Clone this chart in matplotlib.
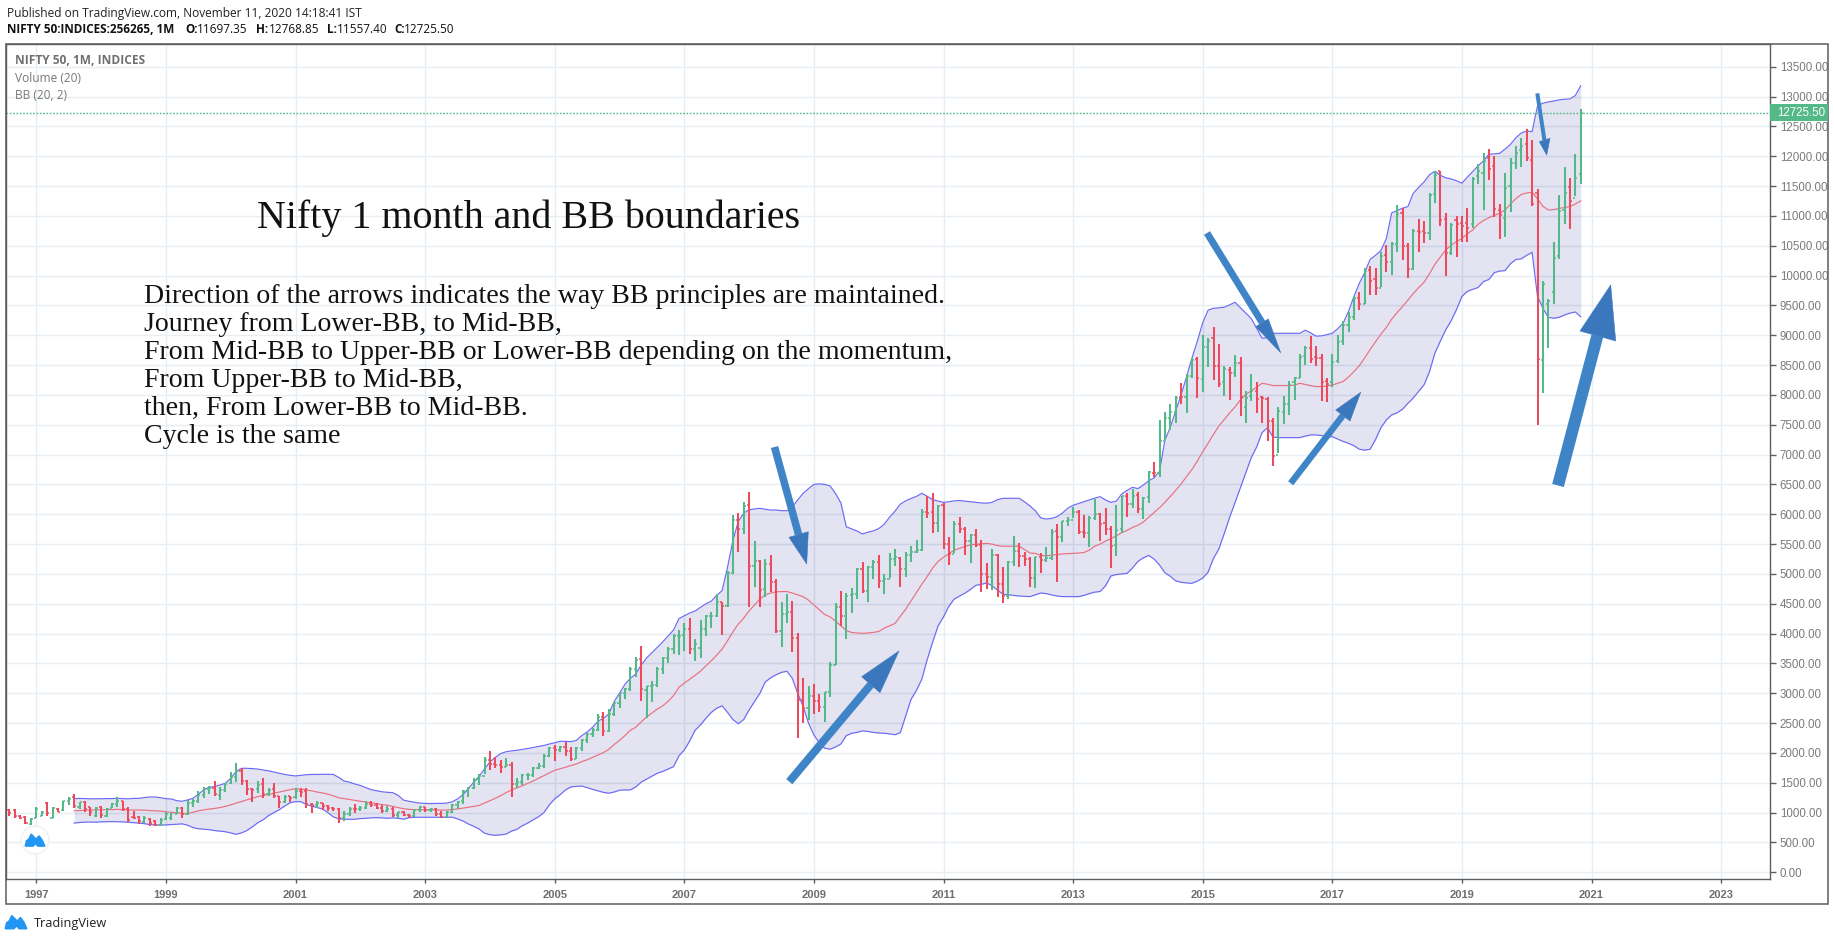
import numpy as np
import matplotlib
matplotlib.use("Agg")
import matplotlib.pyplot as plt
from matplotlib.patches import Polygon, Circle, Rectangle

# =========================
# 1. DATA
# monthly bars Aug 1996 - Nov 2020
# =========================

bar_open = [
    1040, 1040, 945, 930, 815,
    910, 950, 1160, 915, 1065, 1040, 1190, 1260, 1090, 1170, 1090, 950,
    1090, 950, 1080, 1140, 1190, 1060, 930, 930, 840, 900, 860, 800,
    885, 910, 985, 1080, 985, 1165, 1190, 1300, 1395, 1410, 1300, 1380,
    1490, 1600, 1700, 1530, 1400, 1390, 1475, 1310, 1390, 1280, 1175, 1280,
    1260, 1370, 1360, 1140, 1120, 1160, 1105, 1075, 1060, 915, 975, 1065,
    1060, 1075, 1150, 1130, 1080, 1030, 1060, 960, 1010, 965, 950, 1050,
    1095, 1040, 1060, 980, 935, 1005, 1135, 1190, 1355, 1420, 1560, 1620,
    1880, 1810, 1800, 1770, 1790, 1480, 1505, 1630, 1635, 1745, 1785, 1955,
    2080, 2055, 2100, 2040, 1905, 2085, 2220, 2310, 2385, 2600, 2370, 2650,
    2840, 3000, 3075, 3405, 3570, 3050, 3130, 3145, 3415, 3590, 3750, 3955,
    3985, 4085, 3735, 3755, 4085, 4290, 4300, 4530, 4470, 5020, 5900, 5750,
    6150, 5140, 5220, 4740, 5165, 4870, 4040, 4330, 4360, 3920, 2885, 2755,
    2960, 2875, 2765, 3020, 3475, 4450, 4290, 4640, 4660, 5085, 4710, 5120,
    5200, 4880, 4920, 5250, 5275, 5085, 5310, 5365, 5400, 6030, 6030, 5860,
    6150, 5500, 5330, 5835, 5750, 5560, 5650, 5480, 5000, 4945, 5325, 4830,
    4625, 5200, 5385, 5295, 5250, 4925, 5280, 5230, 5260, 5715, 5620, 5880,
    5905, 6040, 5700, 5680, 5930, 6000, 5850, 5750, 5480, 5760, 6300, 6180,
    6320, 6090, 6290, 6700, 6700, 7230, 7610, 7720, 7970, 7970, 8320, 8610,
    8270, 8810, 8950, 8490, 8220, 8420, 8370, 8530, 7790, 7990, 8060, 7960,
    7940, 7560, 7000, 7720, 7850, 8220, 8290, 8650, 8790, 8640, 8620, 8230,
    8210, 8570, 8900, 9180, 9300, 9620, 9520, 10100, 9950, 9790, 10340, 10225,
    10530, 11050, 10490, 10115, 10750, 10740, 10720, 11360, 11750, 10950, 10385, 10930,
    10880, 10880, 10860, 11665, 11725, 11970, 11840, 11100, 10960, 11500, 11880, 12100,
    12200, 11940, 11390, 8585, 9530, 9730, 10325, 11100, 11480, 11300, 11700,
]

bar_high = [
    1055, 1055, 955, 945, 915,
    1090, 1020, 1172, 1090, 1072, 1200, 1257, 1313, 1184, 1195, 1100, 1090,
    1112, 1072, 1156, 1257, 1200, 1100, 1027, 944, 950, 905, 883, 905,
    1010, 1000, 1100, 1090, 1212, 1230, 1368, 1436, 1447, 1530, 1424, 1491,
    1675, 1827, 1743, 1547, 1408, 1536, 1575, 1408, 1491, 1285, 1290, 1285,
    1408, 1419, 1408, 1167, 1201, 1167, 1128, 1090, 1072, 1033, 1100, 1139,
    1117, 1201, 1201, 1156, 1128, 1112, 1100, 1017, 1028, 977, 1056, 1112,
    1100, 1072, 1072, 1028, 1028, 1145, 1201, 1380, 1436, 1575, 1642, 1927,
    2033, 1938, 1882, 1910, 1843, 1575, 1642, 1659, 1759, 1826, 1977, 2094,
    2128, 2117, 2189, 2094, 2106, 2228, 2329, 2413, 2647, 2681, 2731, 2860,
    3010, 3094, 3435, 3602, 3792, 3129, 3212, 3447, 3603, 3782, 3989, 4062,
    4173, 4257, 3905, 4229, 4313, 4369, 4659, 4536, 5056, 5989, 6017, 6201,
    6368, 5553, 5235, 5246, 5318, 4911, 4536, 4659, 4553, 4006, 3252, 3123,
    3151, 2984, 3028, 3520, 4519, 4715, 4676, 4760, 5095, 5195, 5140, 5235,
    5313, 4994, 5346, 5413, 5279, 5374, 5475, 5570, 6084, 6307, 6352, 6156,
    6184, 5614, 5894, 5950, 5782, 5665, 5749, 5570, 5179, 5413, 5329, 5123,
    5224, 5637, 5514, 5374, 5290, 5290, 5358, 5458, 5749, 5838, 5894, 5961,
    6117, 6072, 5988, 5971, 6251, 6016, 6100, 5809, 6156, 6312, 6351, 6424,
    6368, 6284, 6731, 6871, 7581, 7710, 7844, 7989, 8196, 8352, 8626, 8631,
    9006, 8950, 9134, 8855, 8492, 8475, 8670, 8631, 8062, 8352, 8224, 7989,
    7972, 7609, 7793, 7989, 8235, 8307, 8682, 8827, 8989, 8821, 8682, 8279,
    8682, 9006, 9245, 9396, 9658, 9720, 10122, 10161, 10122, 10390, 10513, 10558,
    11183, 11128, 10541, 10776, 10943, 10915, 11379, 11760, 11751, 11044, 10880, 11000,
    11000, 11129, 11659, 11872, 12050, 12123, 12006, 11201, 11715, 11967, 12173, 12302,
    12452, 12274, 11447, 9911, 9603, 10559, 11352, 11816, 11631, 12039, 12788,
]

bar_low = [
    950, 915, 893, 810, 800,
    905, 940, 944, 910, 1005, 1033, 1128, 1084, 1067, 1017, 944, 933,
    916, 933, 1072, 1089, 1022, 838, 888, 810, 832, 782, 782, 793,
    877, 883, 972, 905, 955, 1090, 1167, 1251, 1313, 1280, 1212, 1352,
    1475, 1508, 1463, 1296, 1184, 1324, 1251, 1285, 1240, 1084, 1167, 1184,
    1229, 1268, 1084, 989, 1072, 1044, 1033, 1033, 832, 866, 950, 1000,
    1033, 1056, 1100, 1056, 1000, 1005, 933, 910, 950, 905, 933, 1017,
    1017, 1017, 950, 905, 922, 989, 1056, 1145, 1257, 1396, 1463, 1648,
    1715, 1743, 1659, 1760, 1268, 1418, 1457, 1547, 1603, 1726, 1748, 1927,
    1871, 2022, 1949, 1871, 1893, 2038, 2161, 2273, 2374, 2284, 2357, 2625,
    2759, 2904, 3044, 3267, 2871, 2581, 2860, 3101, 3324, 3503, 3659, 3642,
    3715, 3659, 3548, 3587, 3967, 4089, 4285, 3978, 4441, 5000, 5374, 5665,
    4441, 4788, 4453, 4620, 4704, 4006, 3782, 4184, 3698, 2246, 2497, 2553,
    2648, 2693, 2525, 2944, 3475, 4134, 3905, 4341, 4575, 4676, 4525, 4910,
    4760, 4659, 4927, 5140, 4777, 4944, 5207, 5346, 5391, 5933, 5681, 5709,
    5413, 5151, 5346, 5681, 5318, 5190, 5447, 4704, 4743, 4732, 4620, 4519,
    4581, 5134, 5123, 5140, 4777, 4760, 5022, 5195, 5235, 4872, 5542, 5805,
    5933, 5664, 5597, 5457, 5904, 5558, 5653, 5105, 5307, 5692, 5960, 6111,
    6016, 5921, 6195, 6631, 6631, 7246, 7414, 7536, 7844, 7704, 8279, 7955,
    8056, 8464, 8251, 8140, 7989, 7916, 8307, 7654, 7536, 7905, 7704, 7536,
    7235, 6816, 7022, 7514, 7665, 7916, 8279, 8503, 8542, 8492, 7905, 7888,
    8129, 8531, 8840, 9061, 9256, 9424, 9524, 9675, 9675, 9815, 10066, 10010,
    10401, 10262, 9955, 10094, 10401, 10541, 10597, 11223, 10832, 10000, 10350, 10319,
    10570, 10570, 10805, 11536, 11101, 11603, 10989, 10615, 10654, 11067, 11793, 11827,
    11927, 11173, 7498, 8040, 8794, 9525, 10280, 10866, 10782, 11341, 11536,
]

bar_close = [
    990, 940, 905, 830, 895,
    1060, 1005, 990, 1075, 1015, 1190, 1235, 1105, 1170, 1060, 1010, 1075,
    960, 1060, 1140, 1190, 1060, 880, 905, 860, 910, 830, 800, 880,
    985, 990, 1080, 985, 1160, 1190, 1290, 1395, 1410, 1310, 1380, 1480,
    1600, 1690, 1530, 1400, 1380, 1470, 1310, 1380, 1280, 1170, 1270, 1240,
    1370, 1350, 1150, 1120, 1165, 1110, 1070, 1060, 910, 970, 1065, 1060,
    1075, 1140, 1130, 1080, 1030, 1060, 960, 1010, 965, 950, 1050, 1095,
    1040, 1060, 980, 935, 1005, 1135, 1185, 1355, 1420, 1555, 1615, 1880,
    1810, 1800, 1770, 1795, 1480, 1505, 1630, 1635, 1745, 1785, 1950, 2075,
    2055, 2100, 2035, 1900, 2085, 2220, 2310, 2385, 2600, 2370, 2650, 2835,
    3000, 3075, 3400, 3555, 3070, 3130, 3145, 3415, 3590, 3745, 3955, 3965,
    4080, 3745, 3820, 4085, 4290, 4295, 4530, 4465, 5020, 5900, 5760, 6140,
    5135, 5220, 4735, 5160, 4870, 4040, 4330, 4360, 3920, 2885, 2755, 2960,
    2875, 2765, 3020, 3475, 4450, 4290, 4635, 4660, 5085, 4710, 5120, 5200,
    4880, 4920, 5250, 5280, 5085, 5310, 5365, 5400, 6030, 6015, 5860, 6135,
    5505, 5330, 5835, 5750, 5560, 5645, 5480, 5000, 4945, 5325, 4830, 4625,
    5200, 5385, 5295, 5250, 4925, 5280, 5230, 5260, 5700, 5620, 5880, 5905,
    6035, 5695, 5680, 5930, 6000, 5840, 5745, 5470, 5735, 6300, 6175, 6305,
    6090, 6275, 6705, 6695, 7230, 7610, 7720, 7955, 7965, 8320, 8590, 8280,
    8810, 8900, 8490, 8180, 8430, 8370, 8530, 7970, 7950, 8065, 7935, 7945,
    7560, 6985, 7735, 7850, 8160, 8285, 8640, 8785, 8610, 8625, 8225, 8185,
    8560, 8880, 9170, 9300, 9620, 9520, 10075, 9915, 9790, 10335, 10225, 10530,
    11025, 10490, 10115, 10740, 10735, 10715, 11355, 11680, 10930, 10385, 10850, 10860,
    10830, 10790, 11620, 11750, 11920, 11790, 11120, 11020, 11475, 11880, 12055, 12170,
    11965, 11200, 8600, 9860, 9580, 10300, 11075, 11390, 11250, 11640, 12725,
]

# Bollinger bands, Aug 1997 - Nov 2020
bb_upper = [
    1235, 1238, 1235, 1232, 1232,
    1232, 1235, 1235, 1240, 1234, 1232, 1238, 1240, 1252, 1262, 1262, 1250,
    1234, 1229, 1201, 1190, 1212, 1240, 1307, 1380, 1425, 1436, 1463, 1491,
    1575, 1687, 1743, 1743, 1738, 1730, 1715, 1700, 1680, 1660, 1640, 1625,
    1615, 1625, 1635, 1640, 1640, 1642, 1642, 1640, 1590, 1530, 1510, 1480,
    1455, 1420, 1385, 1368, 1350, 1340, 1335, 1290, 1210, 1190, 1175, 1160,
    1155, 1152, 1155, 1155, 1160, 1180, 1230, 1300, 1400, 1510, 1610, 1730,
    1850, 1925, 1990, 2020, 2035, 2045, 2060, 2075, 2090, 2110, 2125, 2150,
    2170, 2195, 2195, 2190, 2210, 2290, 2350, 2430, 2530, 2580, 2650, 2860,
    3000, 3150, 3250, 3320, 3470, 3590, 3680, 3770, 3860, 3960, 4060, 4250,
    4300, 4345, 4380, 4440, 4500, 4545, 4640, 4720, 5110, 5560, 5880, 6020,
    6075, 6090, 6100, 6085, 6070, 6072, 6060, 6060, 6120, 6240, 6350, 6430,
    6500, 6510, 6500, 6475, 6350, 6190, 5790, 5754, 5720, 5670, 5700, 5720,
    5760, 5830, 5950, 6050, 6170, 6225, 6265, 6300, 6352, 6300, 6245, 6220,
    6200, 6210, 6225, 6230, 6220, 6210, 6200, 6190, 6185, 6200, 6245, 6268,
    6268, 6268, 6268, 6210, 6140, 6060, 5940, 5920, 5930, 5960, 6020, 6100,
    6150, 6180, 6210, 6240, 6270, 6295, 6240, 6200, 6220, 6340, 6400, 6452,
    6430, 6490, 6563, 6610, 6720, 7240, 7460, 7730, 8000, 8300, 8615, 8900,
    9210, 9420, 9452, 9460, 9470, 9510, 9553, 9460, 9370, 9280, 9117, 8950,
    8960, 9033, 9033, 9033, 9033, 9033, 9033, 9085, 9040, 8985, 8990, 9010,
    9033, 9110, 9201, 9400, 9650, 9870, 10050, 10270, 10340, 10420, 10620, 11050,
    11090, 11130, 11156, 11380, 11480, 11570, 11690, 11750, 11680, 11640, 11620, 11590,
    11548, 11650, 11743, 11840, 11922, 12034, 12040, 12050, 12120, 12200, 12310, 12390,
    12425, 12413, 12840, 12890, 12910, 12925, 12945, 12955, 12961, 13017, 13180,
]

bb_mid = [
    1030, 1035, 1040, 1045, 1045,
    1048, 1050, 1050, 1055, 1050, 1045, 1045, 1045, 1040, 1035, 1030, 1025,
    1015, 1005, 1000, 985, 985, 1005, 1030, 1045, 1060, 1070, 1085, 1105,
    1130, 1160, 1185, 1215, 1240, 1268, 1285, 1305, 1325, 1345, 1365, 1385,
    1400, 1395, 1380, 1365, 1345, 1330, 1310, 1280, 1250, 1235, 1220, 1205,
    1190, 1180, 1165, 1150, 1135, 1125, 1105, 1085, 1065, 1055, 1050, 1050,
    1048, 1045, 1044, 1042, 1044, 1052, 1062, 1075, 1090, 1105, 1120, 1160,
    1200, 1240, 1285, 1335, 1380, 1415, 1450, 1490, 1530, 1575, 1620, 1665,
    1710, 1735, 1760, 1790, 1815, 1855, 1885, 1925, 1965, 2005, 2060, 2140,
    2210, 2290, 2380, 2430, 2520, 2600, 2670, 2735, 2790, 2865, 2960, 3100,
    3170, 3235, 3300, 3370, 3460, 3545, 3640, 3740, 3880, 4030, 4160, 4260,
    4380, 4480, 4580, 4650, 4680, 4700, 4705, 4705, 4680, 4650, 4620, 4560,
    4480, 4400, 4320, 4280, 4210, 4130, 4050, 4020, 4010, 4005, 4010, 4020,
    4035, 4090, 4130, 4170, 4290, 4410, 4550, 4690, 4830, 4960, 5100, 5210,
    5280, 5340, 5400, 5430, 5460, 5490, 5497, 5505, 5512, 5500, 5475, 5464,
    5464, 5466, 5464, 5410, 5350, 5345, 5310, 5305, 5315, 5325, 5335, 5340,
    5345, 5350, 5360, 5400, 5465, 5500, 5550, 5590, 5640, 5690, 5730, 5780,
    5815, 5870, 5950, 6030, 6110, 6200, 6300, 6400, 6510, 6630, 6750, 6890,
    7050, 7190, 7340, 7480, 7590, 7700, 7800, 7920, 8010, 8070, 8130, 8195,
    8180, 8157, 8157, 8157, 8157, 8165, 8195, 8175, 8155, 8140, 8140, 8150,
    8165, 8195, 8225, 8300, 8390, 8490, 8620, 8760, 8890, 9020, 9130, 9270,
    9380, 9480, 9590, 9700, 9800, 9890, 10030, 10190, 10310, 10430, 10510, 10570,
    10620, 10700, 10765, 10860, 10925, 10970, 11010, 11045, 11100, 11200, 11290, 11360,
    11385, 11397, 11290, 11160, 11100, 11105, 11125, 11140, 11156, 11200, 11252,
]

bb_lower = [
    825, 835, 840, 842, 840,
    845, 848, 850, 848, 845, 838, 830, 825, 815, 800, 795, 790,
    795, 800, 805, 812, 790, 750, 730, 722, 715, 700, 690, 680,
    660, 637, 660, 700, 760, 830, 880, 950, 1000, 1050, 1110, 1165,
    1184, 1184, 1135, 1110, 1085, 1060, 1000, 930, 895, 890, 888, 890,
    900, 905, 912, 916, 912, 905, 912, 905, 890, 915, 922, 922,
    922, 922, 922, 922, 922, 925, 895, 860, 810, 770, 725, 655,
    630, 620, 628, 640, 690, 720, 780, 825, 880, 930, 1000, 1130,
    1230, 1300, 1380, 1430, 1440, 1446, 1420, 1390, 1365, 1340, 1325, 1345,
    1375, 1380, 1380, 1430, 1510, 1560, 1610, 1660, 1690, 1730, 1770, 1950,
    2050, 2200, 2380, 2470, 2580, 2680, 2750, 2790, 2680, 2560, 2490, 2560,
    2720, 2860, 3000, 3190, 3260, 3310, 3350, 3369, 3250, 3000, 2780, 2500,
    2300, 2170, 2080, 2062, 2100, 2150, 2290, 2330, 2345, 2370, 2360, 2345,
    2335, 2330, 2320, 2305, 2340, 2620, 2900, 3050, 3240, 3570, 3860, 4130,
    4280, 4460, 4580, 4630, 4680, 4740, 4810, 4825, 4850, 4800, 4730, 4660,
    4650, 4640, 4630, 4625, 4620, 4650, 4680, 4670, 4650, 4630, 4620, 4620,
    4620, 4620, 4640, 4670, 4695, 4705, 4800, 4965, 4990, 5000, 5010, 5100,
    5210, 5270, 5310, 5250, 5150, 5020, 4960, 4885, 4860, 4850, 4843, 4880,
    4930, 5030, 5260, 5420, 5680, 5950, 6200, 6450, 6700, 6950, 7130, 7370,
    7450, 7295, 7285, 7285, 7285, 7285, 7285, 7310, 7330, 7330, 7320, 7305,
    7300, 7260, 7220, 7190, 7150, 7090, 7075, 7090, 7250, 7450, 7580, 7665,
    7700, 7760, 7860, 7950, 8060, 8170, 8390, 8700, 8900, 9090, 9240, 9430,
    9650, 9735, 9770, 9800, 9900, 9935, 10050, 10075, 10085, 10200, 10270, 10280,
    10340, 10390, 9650, 9450, 9300, 9285, 9300, 9340, 9370, 9390, 9310,
]

year_labels = ["1997", "1999", "2001", "2003", "2005", "2007", "2009", "2011",
               "2013", "2015", "2017", "2019", "2021", "2023"]
price_ticks = [0, 500, 1000, 1500, 2000, 2500, 3000, 3500, 4000, 4500, 5000,
               5500, 6000, 6500, 7000, 7500, 8000, 8500, 9000, 9500, 10000,
               10500, 11000, 11500, 12000, 12500, 13000, 13500]
last_price = 12725.50

title_text = "Nifty 1 month and BB boundaries"
note_lines = [
    "Direction of the arrows indicates the way BB principles are maintained.",
    "Journey from Lower-BB, to Mid-BB,",
    "From Mid-BB to Upper-BB or Lower-BB depending on the momentum,",
    "From Upper-BB to Mid-BB,",
    "then, From Lower-BB to Mid-BB.",
    "Cycle is the same",
]

# =========================
# 2. LAYOUT
# =========================

W, H = 1834, 941
RED = "#ee4a5c"
GREEN = "#53b987"
GRID = "#e6edf3"
AXIS = "#5d5d5d"
LABEL = "#7a7a7a"
ARROW = "#3f84c6"
ARROW_HEAD = "#3a77bd"

plt.rcParams["font.family"] = ["Liberation Sans", "DejaVu Sans"]

fig = plt.figure(figsize=(W / 100, H / 100), dpi=100, facecolor="white")

left, right, top, bottom = 6, 1770, 44, 879
ax = fig.add_axes([left / W, 1 - bottom / H, (right - left) / W, (bottom - top) / H])

# months counted from Jan 1997, 5.4 px per month, 1997 sits on x = 36.3
px_month = 5.4
x0 = 36.3
ax.set_xlim((left - x0) / px_month, (right - x0) / px_month)
# 0 sits on y = 872.3, 0.05967 px per point
px_point = 0.05967
y0 = 872.3
ax.set_ylim((y0 - bottom) / px_point, (y0 - top) / px_point)

bar_months = np.arange(-5, -5 + len(bar_close))
bb_months = np.arange(7, 7 + len(bb_mid))
year_months = np.arange(len(year_labels)) * 24

# =========================
# 3. CHART
# =========================

ax.set_xticks(year_months)
ax.set_xticklabels(year_labels, fontweight="bold", fontsize=8, color="#6e6e6e")
ax.yaxis.tick_right()
ax.set_yticks(price_ticks)
ax.set_yticklabels([f"{p:.2f}" for p in price_ticks], fontsize=8.3, color=LABEL)
ax.tick_params(axis="x", length=3, width=1, color=AXIS, pad=5)
ax.tick_params(axis="y", length=4, width=1, color=AXIS, pad=3)
ax.grid(True, color=GRID, lw=1)
ax.set_axisbelow(True)
for side in ax.spines.values():
    side.set_color(AXIS)
    side.set_linewidth(1)

ax.fill_between(bb_months, bb_lower, bb_upper, color="#000080", alpha=0.11, lw=0, zorder=1)
ax.plot(bb_months, bb_upper, color="#6a6af6", lw=0.85, zorder=2)
ax.plot(bb_months, bb_lower, color="#6a6af6", lw=0.85, zorder=2)
ax.plot(bb_months, bb_mid, color="#ea7080", lw=0.85, zorder=2)

opens = np.array(bar_open)
highs = np.array(bar_high)
lows = np.array(bar_low)
closes = np.array(bar_close)
up = closes >= opens
for mask, colour in [(up, GREEN), (~up, RED)]:
    ax.vlines(bar_months[mask], lows[mask], highs[mask], color=colour, lw=1.45, zorder=3)
    ax.hlines(opens[mask], bar_months[mask] - 0.4, bar_months[mask], color=colour, lw=1.1, zorder=3)
    ax.hlines(closes[mask], bar_months[mask], bar_months[mask] + 0.4, color=colour, lw=1.1, zorder=3)

ax.axhline(last_price, color=GREEN, lw=1, ls=(0, (1.2, 1.2)), zorder=3)

# overlay in pixels for everything that is not on the price scale
over = fig.add_axes([0, 0, 1, 1], facecolor="none", zorder=5)
over.set_xlim(0, W)
over.set_ylim(H, 0)
over.axis("off")

# outer frame and last price tag
over.add_patch(Rectangle((left, top), 1828 - left, 904 - top, fill=False, ec=AXIS, lw=1.1))
over.add_patch(Rectangle((right, 104), 1828 - right, 16.7, fc=GREEN, ec="none"))
over.text(1777, 112.5, f"{last_price:.2f}", color="white", fontsize=8.3, va="center")

# =========================
# 4. ARROWS
# =========================


def draw_arrow(tail, tip, corner_a, corner_b, width):
    tail = np.array(tail, float)
    tip = np.array(tip, float)
    a = np.array(corner_a, float)
    b = np.array(corner_b, float)
    along = (tip - tail) / np.linalg.norm(tip - tail)
    side = np.array([-along[1], along[0]]) * width / 2
    neck = tail + along * np.dot((a + b) / 2 - tail, along)
    if np.dot(a - neck, side) < 0:
        a, b = b, a
    over.add_patch(Polygon([tail + side, neck + side, neck - side, tail - side], closed=True,
                           fc=ARROW, ec="none", zorder=6))
    over.add_patch(Polygon([a, tip, b], closed=True, fc=ARROW_HEAD, ec=ARROW_HEAD, lw=0.4,
                           joinstyle="round", zorder=6))


draw_arrow((774.5, 447), (806.7, 564), (789, 537.3), (808.3, 531.7), 7.5)
draw_arrow((789.3, 781.7), (899, 651), (861.7, 676.7), (880, 692.7), 8)
draw_arrow((1207, 233), (1280.7, 352.7), (1255.7, 326.7), (1268.3, 319), 7)
draw_arrow((1290.7, 483.3), (1360.7, 392.3), (1335.7, 410), (1350, 421), 6.5)
draw_arrow((1537.3, 93.3), (1546.7, 155), (1539.3, 141.7), (1550, 138.3), 4)
draw_arrow((1558, 485.5), (1610.7, 285), (1580, 331), (1615.7, 341), 12)

# =========================
# 5. TEXT
# =========================

over.text(257, 218.5, title_text, family="Liberation Serif", fontsize=28.8, color="#111111", va="center")
for n, line in enumerate(note_lines):
    over.text(144, 296.3 + n * 28.1, line, family="Liberation Serif", fontsize=20.1, color="#111111", va="center")

over.text(7, 13, "Published on TradingView.com, November 11, 2020 14:18:41 IST",
          family="Open Sans", fontsize=8.6, color="#222222", va="center")
over.text(7, 29, "NIFTY 50:INDICES:256265, 1M", family="Open Sans", fontsize=8.5,
          fontweight="bold", color="#111111", va="center")
header_bits = [("O:", 185, True), ("11697.35", 197, False), ("H:", 256, True), ("12768.85", 269, False),
               ("L:", 327, True), ("11557.40", 337, False), ("C:", 394, True), ("12725.50", 404, False)]
for bit, xpos, is_bold in header_bits:
    over.text(xpos, 29, bit, family="Open Sans", fontsize=8.5, color="#111111", va="center",
              fontweight="bold" if is_bold else "normal")

over.text(15, 60.5, "NIFTY 50, 1M, INDICES", family="Open Sans", fontsize=8.6, fontweight="bold", color="#6f6f6f", va="center")
over.text(15, 78, "Volume (20)", family="Open Sans", fontsize=8.6, color="#777777", va="center")
over.text(15, 95, "BB (20, 2)", family="Open Sans", fontsize=8.6, color="#777777", va="center")

# =========================
# 6. LOGOS
# =========================


def draw_cloud(cx, cy, s, colour="#2196f3"):
    points = np.array([(-1.0, 0.62), (-0.88, 0.1), (-0.62, -0.1), (-0.4, -0.58), (-0.12, -0.3),
                       (0.12, -0.05), (0.42, -0.4), (0.75, 0.05), (1.0, 0.62), (0.3, 0.62),
                       (0.05, 0.32), (-0.2, 0.62)])
    over.add_patch(Polygon(points * s + (cx, cy), closed=True, fc=colour, ec=colour,
                           lw=1.4, joinstyle="round", zorder=7))


over.add_patch(Circle((35, 840), 14, fc="white", ec="#eef0f3", lw=1, zorder=6))
draw_cloud(35, 840, 9.5)
draw_cloud(16, 922, 10.5)
over.text(34, 923, "TradingView", family="Open Sans", fontsize=9.2, color="#222222", va="center")

fig.savefig("out.png", dpi=100)
